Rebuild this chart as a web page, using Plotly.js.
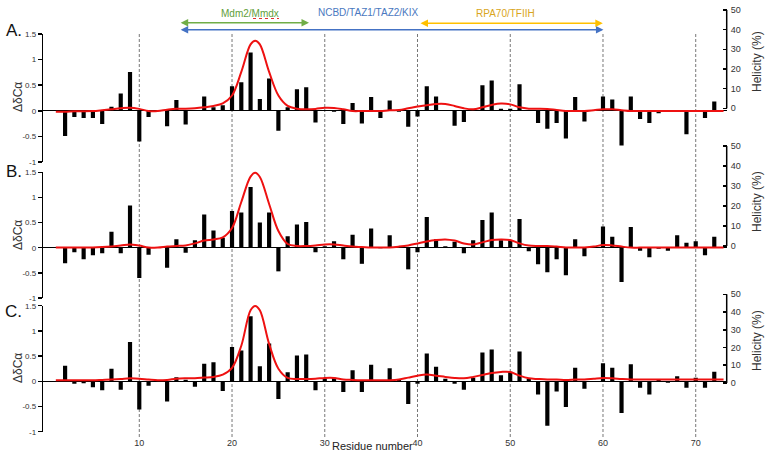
<!DOCTYPE html>
<html>
<head>
<meta charset="utf-8">
<script src="https://cdn.plot.ly/plotly-3.0.1.min.js"></script>
<style>html,body{margin:0;padding:0;background:#fff;}#chart{width:776px;height:463px;}</style>
</head>
<body>
<div id="chart"></div>
<script>
// ---------- DATA ----------
const residues = [2,3,4,5,6,7,8,9,10,11,12,13,14,15,16,17,18,19,20,21,22,23,24,25,26,27,28,29,30,31,32,33,34,35,36,37,38,39,40,41,42,43,44,45,46,47,48,49,50,51,52,53,54,55,56,57,58,59,60,61,62,63,64,65,66,67,68,69,70,71,72];

const dCaA = [-0.49,-0.12,-0.14,-0.14,-0.26,0.08,0.34,0.76,-0.60,-0.12,0,-0.30,0.21,-0.27,0,0.28,0.07,0.11,0.48,0.56,1.14,0.23,0.63,-0.39,0.07,0.42,0.46,-0.23,0,-0.02,-0.26,0.15,-0.25,0.27,-0.14,0.20,-0.02,-0.31,-0.11,0.48,0.28,0.01,-0.29,-0.22,0,0.50,0.59,0.04,0.04,0.52,0,-0.24,-0.35,-0.24,-0.54,0.27,-0.21,0,0.28,0.22,-0.68,0.28,-0.16,-0.24,-0.05,0,0,-0.46,0,-0.14,0.18];

const dCaB = [-0.31,-0.09,-0.23,-0.15,-0.11,0.32,-0.11,0.84,-0.60,-0.14,0,-0.40,0.17,-0.10,0.15,0.66,0.34,0.20,0.73,0.70,1.21,0.50,0.70,-0.47,0.23,0.46,0.51,-0.09,0.03,0.13,-0.23,0.26,-0.32,0.38,-0.01,0.25,0.02,-0.43,-0.09,0.61,0.17,0.03,0.12,-0.11,0.15,0.55,0.70,0.15,0.15,0.57,-0.07,-0.33,-0.49,-0.23,-0.55,0.17,-0.17,0,0.42,0.22,-0.68,0.41,-0.06,-0.19,-0.02,-0.06,0.25,0.10,0.13,-0.15,0.22];

const dCaC = [0.31,-0.05,-0.04,-0.12,-0.18,0.25,-0.17,0.78,-0.56,-0.09,0,-0.40,0.08,0.03,-0.11,0.35,0.38,-0.19,0.68,0.61,1.29,0.30,0.75,-0.35,0.18,0.51,0.53,-0.18,0.06,0.07,-0.21,0.22,-0.21,0.33,0,0.26,0.03,-0.45,-0.05,0.55,0.29,0.05,-0.05,-0.17,0.07,0.57,0.63,0.12,0.19,0.59,0.05,-0.26,-0.88,-0.20,-0.51,0.27,-0.15,0,0.36,0.27,-0.63,0.34,-0.13,-0.26,0.04,-0.03,0.10,-0.13,0.07,-0.13,0.19];

const helRes = [1,2,3,4,5,6,7,8,9,10,11,12,13,14,15,16,17,18,19,20,21,22,22.5,23,24,25,26,27,28,29,30,31,32,33,34,35,36,37,38,39,40,41,42,43,44,45,46,47,48,49,50,51,52,53,54,55,56,57,58,59,60,61,62,63,64,65,66,67,68,69,70,71,72,73];

const helA = [-1.7,-1.7,-1.5,-1.5,-1.4,-1.0,-0.5,0,0.3,-0.3,-1.4,-1.4,-0.7,-0.2,-0.2,0,0.5,1.2,2.5,6.5,18.5,32.5,34.4,32.5,18.5,6.5,1.2,-0.2,-0.5,-0.3,0.3,0.2,-0.5,-1.4,-1.4,-1.4,-1.4,-1.0,-0.9,0,0.9,1.5,2.2,2.2,1.2,0,-0.5,0.5,1.7,2.4,2.0,0.5,-0.2,-0.2,-0.3,-0.9,-1.4,-1.4,-1.4,-1.0,-0.5,-0.5,-1.0,-1.4,-1.4,-1.4,-1.4,-1.4,-1.4,-1.4,-1.4,-1.4,-1.4,-1.4];

const helB = [-0.8,-0.7,-0.7,-0.7,-0.7,-0.5,-0.2,0.2,0.8,0.2,-0.7,-0.8,-0.3,0,0.3,1.3,2.7,3.3,4.3,9.0,22.0,34.7,36.6,34.5,21.0,7.5,1.0,0,0,0.3,0.8,0.8,0.2,-0.3,-0.5,-0.7,-0.7,-0.7,-0.3,0.3,1.3,2.3,3.0,3.3,2.7,1.3,0.8,1.8,3.0,3.3,3.0,1.3,0.2,0,0,-0.3,-0.7,-0.8,-0.7,-0.3,0.5,0.3,-0.3,-0.8,-0.8,-0.8,-0.8,-0.8,-0.8,-0.8,-0.8,-0.8,-0.8,-0.8];

const helC = [1.5,1.5,1.5,1.5,1.5,1.7,1.9,2.2,2.6,2.4,1.9,1.5,1.7,2.4,2.6,2.6,3.0,3.4,4.7,8.5,21.0,41.0,43.4,41.0,22.0,8.0,2.8,2.2,2.2,2.4,2.8,2.8,2.0,1.7,1.5,1.5,1.5,1.5,1.9,3.0,4.1,4.7,4.1,3.4,2.8,2.6,3.4,4.5,5.6,6.2,6.2,4.1,2.6,2.2,1.9,1.9,1.7,1.9,2.0,2.4,2.8,2.6,2.2,1.9,1.9,1.9,1.9,1.9,1.9,1.9,1.9,1.9,1.9,1.9];

const xTicks = [10,20,30,40,50,60,70];
const dTickVals = [-1,-0.5,0,0.5,1,1.5];
const dTickText = ['-1','-0.5','0','0.5','1','1.5'];
const hTickVals = [0,10,20,30,40,50];
const panelLabels = ['A.','B.','C.'];
const bindingLabels = ['Mdm2/Mmdx','NCBD/TAZ1/TAZ2/KIX','RPA70/TFIIH'];
const bindingRanges = [[14.3,28.3],[14.3,60.05],[40.16,59.98]];

// ---------- LAYOUT HELPERS ----------
const W = 776, H = 463;
const px = v => v / W;
const py = v => (H - v) / H;
const font = 'Liberation Sans, Arial, sans-serif';
const xDom = [px(43.3), px(726.7)];

const leftDom = [[162,34],[298,172.3],[431.7,305.7]];
const rightDom = [[165,5],[300,140],[440,290]];
const rightRange = [[-28.84,52.54],[-27,53],[-32.19,52.42]];

const traces = [];
const bars = [dCaA, dCaB, dCaC];
const hels = [helA, helB, helC];
for (let i = 0; i < 3; i++) {
  traces.push({type:'bar', x: residues, y: bars[i], xaxis:'x', yaxis: i===0?'y':'y'+(i+1),
    marker:{color:'#000'}, width:0.45, hoverinfo:'skip'});
}
for (let i = 0; i < 3; i++) {
  traces.push({type:'scatter', mode:'lines', x: helRes, y: hels[i], xaxis:'x', yaxis:'y'+(i+4),
    line:{color:'#ee1111', width:2, shape:'spline', smoothing:1}, hoverinfo:'skip'});
}

const layout = {
  width: W, height: H,
  margin:{l:0,r:0,t:0,b:0,pad:0},
  paper_bgcolor:'#fff', plot_bgcolor:'rgba(0,0,0,0)',
  showlegend:false, hovermode:false,
  font:{family:font, color:'#333'},
  xaxis:{domain:xDom, range:[-0.35,73.34], anchor:'y3', showgrid:false, zeroline:false,
    showline:false, tickvals:xTicks, ticks:'', tickfont:{size:9,color:'#333'}, ticklabelstandoff:4},
  shapes:[], annotations:[]
};
for (let i = 0; i < 3; i++) {
  const k = i===0 ? 'yaxis' : 'yaxis'+(i+1);
  layout[k] = {domain:[py(leftDom[i][0]), py(leftDom[i][1])], range:[-1,1.5], anchor:'x',
    showgrid:false, zeroline:true, zerolinecolor:'#000', zerolinewidth:1.3,
    showline:true, linecolor:'#000', linewidth:1.5, ticks:'outside', ticklen:4, tickwidth:1.5, tickcolor:'#000',
    tickvals:dTickVals, ticktext:dTickText, tickfont:{size:8,color:'#333'}};
  const r = 'yaxis'+(i+4);
  layout[r] = {domain:[py(rightDom[i][0]), py(rightDom[i][1])], range:rightRange[i], anchor:'x', side:'right',
    showgrid:false, zeroline:false, showline:false, ticks:'inside', ticklen:4, tickwidth:1.5, tickcolor:'#000',
    tickvals:hTickVals, tickfont:{size:9,color:'#333'}, ticklabelstandoff:3};
  layout.shapes.push({type:'line', xref:'paper', yref:'y'+(i+4), x0:xDom[1], x1:xDom[1], y0:0, y1:50,
    line:{color:'#000', width:1.5}});
}
// dashed vertical guides
xTicks.forEach(t => layout.shapes.push({type:'line', xref:'x', yref:'paper', x0:t, x1:t, y0:py(437), y1:py(32),
  layer:'below', line:{color:'#777', width:1, dash:'3px,2px'}}));
// spell-check squiggle under Mmdx
layout.shapes.push({type:'line', xref:'paper', yref:'paper', x0:px(253), x1:px(279), y0:py(18.5), y1:py(18.5),
  line:{color:'#e03030', width:1, dash:'dot'}});

// panel letters
const letterY = [30, 172, 311];
const dLabY = [97, 235, 368];
const hLabY = [62, 202, 341];
for (let i = 0; i < 3; i++) {
  layout.annotations.push({text:panelLabels[i], xref:'paper', yref:'paper', x:px(14), y:py(letterY[i]),
    showarrow:false, xanchor:'center', yanchor:'middle', font:{size:17, color:'#111'}});
  layout.annotations.push({text:'ΔδCα', xref:'paper', yref:'paper', x:px(18), y:py(dLabY[i]), textangle:-90,
    showarrow:false, xanchor:'center', yanchor:'middle', font:{size:12, color:'#333'}});
  layout.annotations.push({text:'Helicity (%)', xref:'paper', yref:'paper', x:px(757), y:py(hLabY[i]), textangle:-90,
    showarrow:false, xanchor:'center', yanchor:'middle', font:{size:12, color:'#333'}});
}
layout.annotations.push({text:'Residue number', xref:'paper', yref:'paper', x:px(372), y:py(446),
  showarrow:false, xanchor:'center', yanchor:'middle', font:{size:11, color:'#222'}});

// binding region labels and arrows
const bColors = ['#70ad47','#4472c4','#ffc000'];
const bTextColors = ['#5f9e3a','#4a78c0','#d9a520'];
const bTextPos = [[250,13],[368,12],[505,14]];
const bArrowY = [22.7, 29.7, 23.3];
for (let i = 0; i < 3; i++) {
  layout.annotations.push({text:bindingLabels[i], xref:'paper', yref:'paper', x:px(bTextPos[i][0]), y:py(bTextPos[i][1]),
    showarrow:false, xanchor:'center', yanchor:'middle', font:{size:10, color:bTextColors[i]}});
  layout.annotations.push({text:'', xref:'x', yref:'paper', x:bindingRanges[i][1], y:py(bArrowY[i]),
    axref:'x', ax:bindingRanges[i][0], ayref:'pixel', ay:0, showarrow:true, arrowside:'end+start',
    arrowhead:2, startarrowhead:2, arrowsize:1, startarrowsize:1, arrowwidth:1.5, arrowcolor:bColors[i],
    standoff:0, startstandoff:0});
}

Plotly.newPlot('chart', traces, layout, {staticPlot:true, displayModeBar:false});
</script>
</body>
</html>
